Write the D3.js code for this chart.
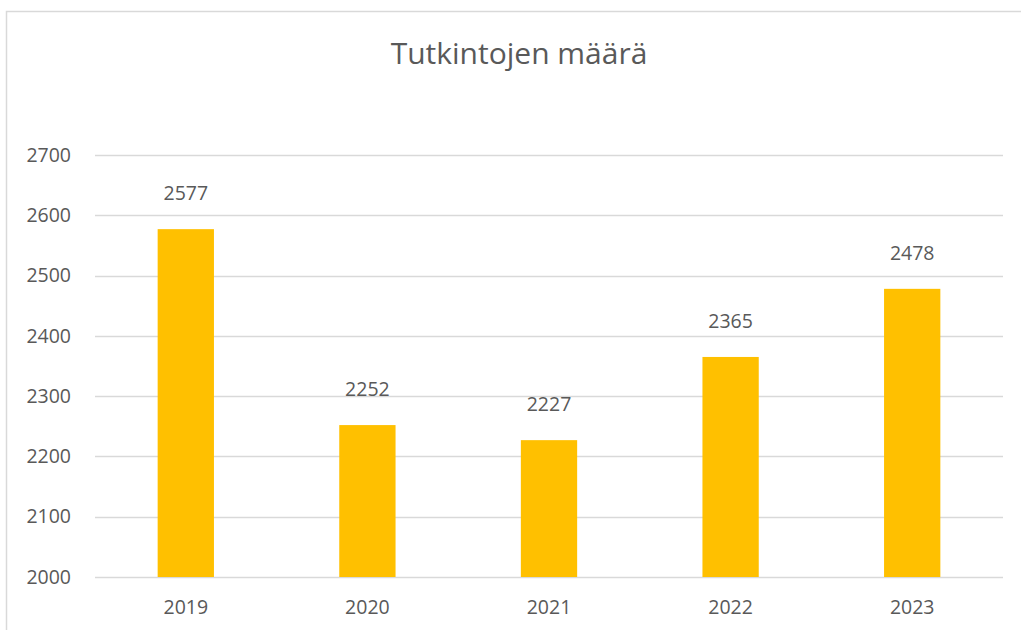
<!DOCTYPE html>
<html lang="fi">
<head>
<meta charset="UTF-8">
<title>Tutkintojen määrä</title>
<script src="https://d3js.org/d3.v7.min.js"></script>
<style>
  body { margin: 0; background: #fff; }
  text { font-family: "Open Sans", "Noto Sans", sans-serif; fill: #595959; }
</style>
</head>
<body>
<div id="chart"></div>
<script>
var years = ["2019", "2020", "2021", "2022", "2023"];
var counts = [2577, 2252, 2227, 2365, 2478];
var yTicks = [2000, 2100, 2200, 2300, 2400, 2500, 2600, 2700];

var width = 1021, height = 630;
var plotLeft = 95, plotRight = 1003, plotTop = 155, plotBottom = 577;

var svg = d3.select("#chart").append("svg")
  .attr("width", width)
  .attr("height", height);

// outer frame (cut off on the right and bottom in the original)
svg.append("rect")
  .attr("x", 6.5).attr("y", 11.5)
  .attr("width", 1030).attr("height", 640)
  .attr("fill", "none")
  .attr("stroke", "#d9d9d9")
  .attr("stroke-width", 1.5);

var x = d3.scaleBand().domain(years).range([plotLeft, plotRight]).paddingInner(0.69).paddingOuter(0.345);
var y = d3.scaleLinear().domain([2000, 2700]).range([plotBottom, plotTop]);

// gridlines
svg.append("g").selectAll("line").data(yTicks).enter().append("line")
  .attr("x1", plotLeft).attr("x2", plotRight)
  .attr("y1", function(d) { return Math.round(y(d)) + 0.5; })
  .attr("y2", function(d) { return Math.round(y(d)) + 0.5; })
  .attr("stroke", "#d9d9d9")
  .attr("stroke-width", 1.5);

// y axis labels
var yAxis = svg.append("g")
  .attr("transform", "translate(" + (plotLeft - 24) + ",0)")
  .call(d3.axisLeft(y).tickValues(yTicks).tickSize(0).tickPadding(0).tickFormat(d3.format("d")));
yAxis.select(".domain").remove();
yAxis.selectAll("text").style("font-size", "19.5px").attr("fill", "#595959");

// bars
svg.append("g").selectAll("rect").data(counts).enter().append("rect")
  .attr("x", function(d, i) { return x(years[i]); })
  .attr("y", function(d) { return y(d); })
  .attr("width", x.bandwidth())
  .attr("height", function(d) { return y(2000) - y(d); })
  .attr("fill", "#ffc000");

// value labels
svg.append("g").selectAll("text").data(counts).enter().append("text")
  .attr("x", function(d, i) { return x(years[i]) + x.bandwidth() / 2; })
  .attr("y", function(d) { return y(d) - 29; })
  .attr("text-anchor", "middle")
  .style("font-size", "19.5px")
  .text(function(d) { return d; });

// x axis labels
var xAxis = svg.append("g")
  .attr("transform", "translate(0," + (plotBottom + 23) + ")")
  .call(d3.axisBottom(x).tickSize(0).tickPadding(0));
xAxis.select(".domain").remove();
xAxis.selectAll("text").style("font-size", "19.5px").attr("fill", "#595959");

// title
svg.append("text")
  .attr("x", 519).attr("y", 64)
  .attr("text-anchor", "middle")
  .style("font-size", "30px")
  .text("Tutkintojen määrä");
</script>
</body>
</html>
